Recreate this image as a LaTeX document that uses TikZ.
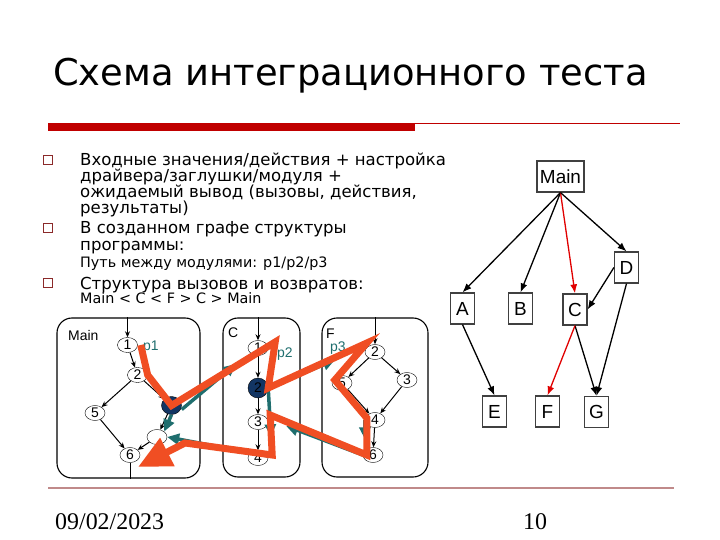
\documentclass[tikz,border=0pt]{standalone}
\usepackage{fontspec}
\setmainfont{DejaVu Sans}
\newfontfamily\arialfont{Liberation Sans}
\newfontfamily\timesfont{Liberation Serif}
\usepackage{tikz}
\usetikzlibrary{arrows.meta, shapes.geometric, positioning}
\definecolor{barred}{HTML}{C00000}
\definecolor{bulletred}{HTML}{8B2A2A}
\definecolor{footline}{HTML}{C08A8A}
\definecolor{callorange}{HTML}{F04E23}
\definecolor{retteal}{HTML}{1F6E6E}
\definecolor{darkfill}{HTML}{123563}
\definecolor{edgered}{HTML}{E00000}
\tikzset{
    boxnode/.style = {draw=black!75, line width=1.2bp, rectangle, minimum width=24bp, minimum height=31bp,
      inner sep=3bp, font=\arialfont\fontsize{19}{19}\selectfont},
    framenode/.style = {draw, rectangle, rounded corners=15bp, line width=1.1bp},
    ovalnode/.style = {draw, ellipse, fill=white, minimum width=20bp, minimum height=15bp, inner sep=0bp,
      font=\arialfont\fontsize{14}{14}\selectfont},
    darknode/.style = {ovalnode, fill=darkfill, minimum width=20bp, minimum height=18bp},
    textnode/.style = {draw=none, fill=none, inner sep=0bp, anchor=base west},
    smalltextnode/.style = {textnode, font=\arialfont\fontsize{14}{14}\selectfont},
    bulletnode/.style = {draw=bulletred, line width=0.8bp, minimum size=9bp, inner sep=0bp},
    connect/.style = {black, line width=1.3bp, -{Latex[length=9bp,width=7bp]}},
    redconnect/.style = {connect, edgered},
    flow/.style = {black, line width=1bp, -{Stealth[length=6bp,width=5bp]}},
    retarrow/.style = {retteal, line width=3.5bp, -{Triangle[length=12bp,width=11bp]}},
    callpath/.style = {callorange, line width=7bp, line join=miter, -{Triangle[length=33bp,width=30bp]}}
}
\begin{document}
\begin{tikzpicture}[x=1bp, y=-1bp]
    \useasboundingbox (0,0) rectangle (720,540);

    % title and bar
    \node [name=title, textnode, font=\fontsize{37}{37}\selectfont] at (53,86) {Схема интеграционного теста};
    \fill [barred] (48,123) rectangle (415,131);
    \draw [barred, line width=1bp] (415,123.5) -- (680,123.5);

    % bullets
    \node [name=sq1, bulletnode] at (48,160) {};
    \node [name=sq2, bulletnode] at (48,228) {};
    \node [name=sq3, bulletnode] at (48,283) {};
    \begin{scope}[every node/.style={textnode, font=\fontsize{16.6}{16.6}\selectfont}]
        \node [name=l1] at (80,166) {Входные значения/действия + настройка};
        \node [name=l2] at (80,182) {драйвера/заглушки/модуля +};
        \node [name=l3] at (80,198) {ожидаемый вывод (вызовы, действия,};
        \node [name=l4] at (80,214) {результаты)};
        \node [name=l5] at (80,234) {В созданном графе структуры};
        \node [name=l6] at (80,251) {программы:};
        \node [name=l7, font=\fontsize{14.4}{14.4}\selectfont] at (80,268) {Путь между модулями: p1/p2/p3};
        \node [name=l8] at (80,289) {Структура вызовов и возвратов:};
        \node [name=l9, font=\fontsize{14.4}{14.4}\selectfont] at (80,303) {Main < C < F > C > Main};
    \end{scope}

    % structure graph
    \node [name=gmain, boxnode] at (560.5,176.5) {Main};
    \node [name=gd, boxnode] at (626.5,267.5) {D};
    \node [name=ga, boxnode] at (462.5,308.5) {A};
    \node [name=gb, boxnode] at (520.5,308.5) {B};
    \node [name=gc, boxnode] at (575,309.5) {C};
    \node [name=ge, boxnode] at (494.5,411.5) {E};
    \node [name=gf, boxnode] at (547.5,411.5) {F};
    \node [name=gg, boxnode] at (596.5,412) {G};
    \draw [connect] (gmain.south) -- (ga.north);
    \draw [connect] (gmain.south) -- (gb.north);
    \draw [redconnect] (gmain.south) -- (gc.north);
    \draw [connect] (gmain.south) -- (gd.north);
    \draw [connect] (gd.west) -- (gc.east);
    \draw [connect] (gd.south) -- (gg.north);
    \draw [connect] (gc.south) -- (gg.north);
    \draw [redconnect] (gc.south) -- (gf.north);
    \draw [connect] (ga.south) -- (ge.north);

    % module Main
    \node [name=fmain, framenode, minimum width=143bp, minimum height=160bp] at (128.5,398) {};
    \node [name=tmain, smalltextnode] at (68,340) {Main};
    \node [name=m1, ovalnode] at (127.5,345) {1};
    \node [name=m2, ovalnode] at (137.5,375) {2};
    \node [name=m3, darknode] at (171.5,405.5) {};
    \node [name=m4, ovalnode] at (157,437) {};
    \node [name=m5, ovalnode] at (95,413) {5};
    \node [name=m6, ovalnode] at (130,455) {6};
    \draw [flow] (m1.north |- fmain.north) -- (m1);
    \draw [flow] (m1) -- (m2);
    \draw [flow] (m2) -- (m5);
    \draw [flow] (m2) -- (m3);
    \draw [flow] (m3) -- (m4);
    \draw [flow] (m5) -- (m6);
    \draw [flow] (m4) -- (m6);
    \draw [black, line width=1bp] (m6) -- (m6.south |- fmain.south);

    % module C
    \node [name=fc, framenode, minimum width=77bp, minimum height=159bp] at (261.5,397.5) {};
    \node [name=tc, smalltextnode] at (228,337) {C};
    \node [name=c1, ovalnode] at (258,348) {1};
    \node [name=c2, darknode, minimum height=20bp] at (258,388) {2};
    \node [name=c3, ovalnode] at (258,422) {3};
    \node [name=c4, ovalnode] at (258,458) {4};
    \draw [flow] (c1.north |- fc.north) -- (c1);
    \draw [flow] (c1) -- (c2);
    \draw [flow] (c2) -- (c3);
    \draw [flow] (c3) -- (c4);

    % module F
    \node [name=ff, framenode, minimum width=106bp, minimum height=159bp] at (375,397.5) {};
    \node [name=tf, smalltextnode] at (326,338) {F};
    \node [name=f2, ovalnode] at (375,352) {2};
    \node [name=f5, ovalnode] at (342,383) {5};
    \node [name=f3, ovalnode] at (407,380) {3};
    \node [name=f4, ovalnode] at (375,420) {4};
    \node [name=f6, ovalnode] at (373,455) {6};
    \draw [flow] (f2.north |- ff.north) -- (f2);
    \draw [flow] (f2) -- (f5);
    \draw [flow] (f2) -- (f3);
    \draw [flow] (f5) -- (f4);
    \draw [flow] (f3) -- (f4);
    \draw [flow] (f4) -- (f6);

    % path labels
    \node [name=p1, smalltextnode, text=retteal] at (143,350) {p1};
    \node [name=p2, smalltextnode, text=retteal] at (277,357) {p2};
    \node [name=p3, smalltextnode, text=retteal] at (330,351) {p3};

    % returns
    \draw [retarrow] (m3.south) -- (m4.north east);
    \draw [retarrow] ([yshift=-4bp]m3.east) -- ([shift={(-12,16)}]c1.west);
    \draw [retarrow] (c2.east) -- ([shift={(13,-14)}]c4.north);
    \draw [retarrow] (c2.east) -- ([shift={(-30,8)}]f2.west);
    \draw [retarrow] (f4.west) -- ([shift={(-8,-8)}]f6.north);
    \draw [retarrow] (f6.west) -- ([shift={(18,4)}]c3.east);
    \draw [retarrow] ([yshift=2bp]c4.east) -- (m4.east);

    % call path
    \draw [callpath] ([shift={(3,0)}]m1.east) -- (m2.east) -- (m3.center)
        -- ([shift={(7,-6)}]c1.east) -- (c2.east) -- ([shift={(2,-9)}]f2.west)
        -- ([shift={(3,-3)}]f5.west) -- ([shift={(2,-2)}]f4.west) -- ([shift={(4,0)}]f6.west)
        -- ([shift={(2,-7)}]c3.east) -- ([shift={(4,-3)}]c4.east) -- (185,443) -- (138,467);

    % footer
    \draw [footline, line width=2bp] (48,488) -- (674,488);
    \node [name=date, anchor=west, inner sep=0bp, font=\timesfont\fontsize{24}{24}\selectfont] at (55,522) {09/02/2023};
    \node [name=page, inner sep=0bp, font=\timesfont\fontsize{24}{24}\selectfont] at (535,522) {10};
\end{tikzpicture}
\end{document}
